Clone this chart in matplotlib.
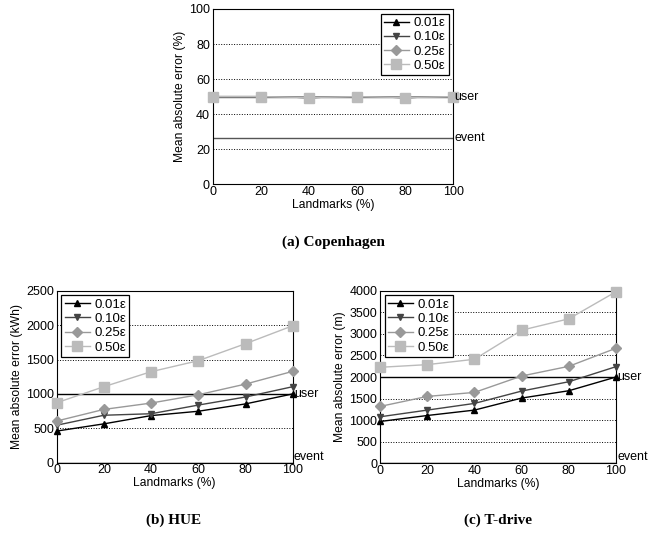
import matplotlib
matplotlib.use("Agg")
import matplotlib.pyplot as plt

plt.rcParams['font.family'] = ['Liberation Sans', 'DejaVu Sans']

landmarks = [0, 20, 40, 60, 80, 100]
series_labels = ['0.01ε', '0.10ε', '0.25ε', '0.50ε']

cph_001 = [50, 50, 49.5, 50, 49.5, 50]
cph_010 = [50, 50, 49.5, 50, 49.5, 50]
cph_025 = [50, 50, 49.5, 50, 49.5, 50]
cph_050 = [50, 50, 49.5, 50, 49.5, 50]
cph_user = 50
cph_event = 26.5

hue_001 = [460, 565, 685, 748, 855, 1000]
hue_010 = [545, 690, 712, 838, 955, 1105]
hue_025 = [606, 775, 867, 988, 1143, 1328]
hue_050 = [872, 1105, 1323, 1483, 1730, 1991]
hue_user = 1000
hue_event = 0

td_001 = [969, 1108, 1233, 1512, 1682, 2000]
td_010 = [1078, 1233, 1388, 1674, 1891, 2240]
td_025 = [1318, 1550, 1643, 2023, 2248, 2667]
td_050 = [2225, 2287, 2411, 3085, 3349, 3977]
td_user = 2000
td_event = 0

colors = ['#000000', '#444444', '#999999', '#bbbbbb']
markers = ['^', 'v', 'D', 's']
msizes = [5, 5, 5.5, 6.5]

fig = plt.figure(figsize=(6.68, 5.35), dpi=100)

def panel(rect, data, ymax, ystep, ylabel, user, event, refcolor, legend_loc, caption, cap_xy):
    ax = fig.add_axes(rect)
    for vals, c, m, ms, lab in zip(data, colors, markers, msizes, series_labels):
        ax.plot(landmarks, vals, color=c, marker=m, markersize=ms, lw=1.0,
                label=lab, clip_on=False, zorder=3)
    ax.axhline(user, color=refcolor, lw=1.0, zorder=2)
    ax.axhline(event, color=refcolor, lw=1.0, zorder=2)
    ax.text(1.005, user, 'user', transform=ax.get_yaxis_transform(), va='center',
            ha='left', fontsize=9)
    ax.text(1.005, event, 'event', transform=ax.get_yaxis_transform(),
            va='bottom' if event == 0 else 'center', ha='left', fontsize=9)
    ax.set_xlim(0, 100)
    ax.set_ylim(0, ymax)
    ax.set_xticks(landmarks)
    ax.set_yticks(range(0, ymax + 1, ystep))
    ax.tick_params(labelsize=9, length=0)
    ax.tick_params(axis='x', pad=1)
    ax.tick_params(axis='y', pad=2)
    ax.yaxis.grid(True, linestyle=':', color='black', lw=0.7)
    ax.set_axisbelow(True)
    ax.set_xlabel('Landmarks (%)', fontsize=8.7, labelpad=1)
    ax.set_ylabel(ylabel, fontsize=8.7, labelpad=2)
    for s in ax.spines.values():
        s.set_linewidth(0.8)
    leg = ax.legend(loc=legend_loc, fontsize=9.5, fancybox=False, framealpha=1,
                    edgecolor='black', handlelength=1.9, borderpad=0.25,
                    labelspacing=0.15, handletextpad=0.35, borderaxespad=0.35)
    leg.get_frame().set_linewidth(0.9)
    fig.text(cap_xy[0], cap_xy[1], caption, ha='center', va='center',
             fontsize=11, fontweight='bold', family='Liberation Serif')
    return ax

panel([0.3184, 0.6555, 0.3602, 0.3277], [cph_001, cph_010, cph_025, cph_050],
      100, 20, 'Mean absolute error (%)', cph_user, cph_event, '#555555',
      'upper right', '(a) Copenhagen', (333 / 668, 1 - 242 / 535))
panel([0.0849, 0.1351, 0.3533, 0.3215], [hue_001, hue_010, hue_025, hue_050],
      2500, 500, 'Mean absolute error (kWh)', hue_user, hue_event, '#000000',
      'upper left', '(b) HUE', (174 / 668, 1 - 520 / 535))
panel([0.5689, 0.134, 0.3533, 0.3226], [td_001, td_010, td_025, td_050],
      4000, 500, 'Mean absolute error (m)', td_user, td_event, '#000000',
      'upper left', '(c) T-drive', (498 / 668, 1 - 520 / 535))

fig.savefig('out.png', dpi=100)
